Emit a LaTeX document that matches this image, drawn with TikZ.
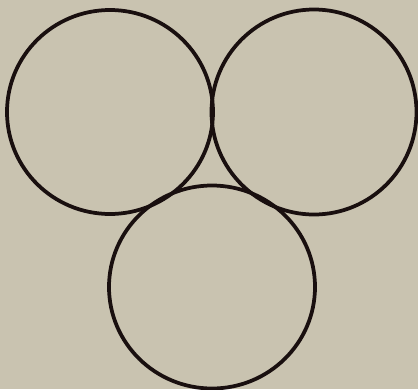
\documentclass[tikz,border=0pt]{standalone}
\usepackage{tikz}
\definecolor{paper}{RGB}{201,195,176}
\definecolor{ink}{RGB}{25,15,15}

\begin{document}
\begin{tikzpicture}[x=0.03cm, y=-0.03cm]
  % Background
  \fill[paper] (0,0) rectangle (418,389);
  \useasboundingbox (0,0) rectangle (418,389);
  \tikzset{ring/.style={draw=ink, line width=3.2pt}}
  % Upper pair
  \draw[ring] (110,112) circle[x radius=103, y radius=102];
  \draw[ring] (314,112) circle[x radius=102.5, y radius=102.5];
  % Lower one
  \draw[ring] (212,287) circle[x radius=103, y radius=101.5];
\end{tikzpicture}
\end{document}
